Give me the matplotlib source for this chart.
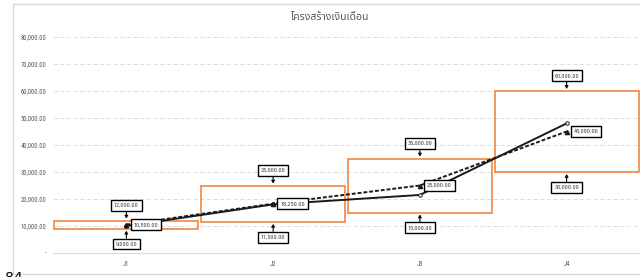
import numpy as np
import matplotlib
matplotlib.use('Agg')
import matplotlib.pyplot as plt
from matplotlib.ticker import FuncFormatter

# salary structure per job level
levels = ['J1', 'J2', 'J3', 'J4']
min_pay = [9000, 11500, 15000, 30000]
max_pay = [12000, 25000, 35000, 60000]
mid_pay = [10500, 18250, 25000, 45000]
actual_pay = [10000, 18000, 21500, 48000]

title = 'โครงสร้างเงินเดือน'
orange = '#ED7D31'
grey = '#595959'
small_font = ['Roboto Condensed', 'DejaVu Sans']

plt.rcParams['font.family'] = small_font

fig = plt.figure(figsize=(6.4, 2.77), dpi=100)
ax = fig.add_axes([53 / 640, 1 - 253 / 277, 587 / 640, 216 / 277])

x = np.arange(len(levels))
lo = np.array(min_pay)
hi = np.array(max_pay)

# floating min-max boxes
ax.bar(x, hi - lo, bottom=lo, width=0.98, facecolor='none',
       edgecolor=orange, linewidth=1.1, zorder=3)

# actual (solid) and midpoint (dashed) lines
ax.plot(x, actual_pay, color='#1a1a1a', linewidth=1.4, marker='o',
        markersize=2.5, markerfacecolor='white', markeredgewidth=0.7, zorder=4)
ax.plot(x, mid_pay, color='#1a1a1a', linewidth=1.4, linestyle=(0, (2, 1)),
        marker='^', markersize=3, zorder=4)

box = dict(boxstyle='square,pad=0.45', fc='white', ec='black', lw=1.0)
arrow = dict(arrowstyle='-|>,head_length=0.35,head_width=0.22',
             fc='white', ec='black', lw=0.8, shrinkA=0, shrinkB=1.5)
lab_kw = dict(fontsize=4.5, color='#404040', ha='center', va='center',
              bbox=box, zorder=6)

for i in range(len(levels)):
    ax.annotate(f'{max_pay[i]:,.2f}', xy=(x[i], max_pay[i]),
                xytext=(0, 11), textcoords='offset points',
                arrowprops=arrow, **lab_kw)
    ax.annotate(f'{min_pay[i]:,.2f}', xy=(x[i], min_pay[i]),
                xytext=(0, -11), textcoords='offset points',
                arrowprops=arrow, **lab_kw)
    ax.annotate(f'{mid_pay[i]:,.2f}', xy=(x[i], mid_pay[i]),
                xytext=(14, 0), textcoords='offset points', **lab_kw)

ax.set_xlim(-0.5, len(levels) - 0.5)
ax.set_ylim(0, 80000)
ax.set_yticks(np.arange(0, 80001, 10000))
ax.yaxis.set_major_formatter(FuncFormatter(lambda v, p: '-' if v == 0 else f'{v:,.2f}'))
ax.set_xticks(x)
ax.set_xticklabels(levels)
ax.tick_params(length=0, labelsize=4.7, labelcolor=grey, pad=6)
ax.tick_params(axis='y', pad=5)

ax.grid(axis='y', color='#d9d9d9', linestyle=(0, (5, 3)), linewidth=0.6)
ax.set_axisbelow(True)
for s in ['top', 'right', 'left']:
    ax.spines[s].set_visible(False)
ax.spines['bottom'].set_color('#d9d9d9')
ax.spines['bottom'].set_linewidth(0.8)

fig.text(330 / 640, 1 - 17 / 277, title, ha='center', va='center',
         fontsize=7.5, color=grey, family=['Noto Sans Thai', 'DejaVu Sans'])

# chart area border
fig.add_artist(plt.Line2D([13 / 640, 13 / 640], [1 - 4 / 277, 1 - 274 / 277],
                          transform=fig.transFigure, color='#d9d9d9', lw=1))
fig.add_artist(plt.Line2D([13 / 640, 1], [1 - 4 / 277, 1 - 4 / 277],
                          transform=fig.transFigure, color='#d9d9d9', lw=1))
fig.add_artist(plt.Line2D([13 / 640, 1], [1 - 274 / 277, 1 - 274 / 277],
                          transform=fig.transFigure, color='#d9d9d9', lw=1))
fig.text(5 / 640, 1 - 271 / 277, '84', fontsize=10, color='black',
         ha='left', va='top', family='DejaVu Sans')

fig.savefig('out.png', dpi=100)
